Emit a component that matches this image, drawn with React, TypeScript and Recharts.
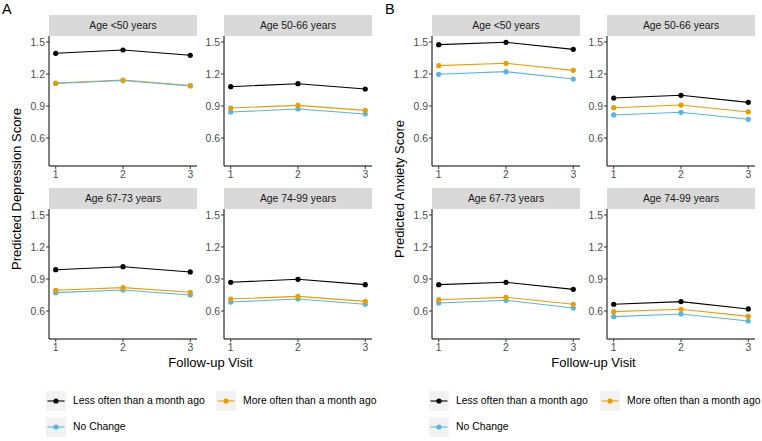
import React from "react";
import { LineChart, Line, XAxis, YAxis } from "recharts";

const visits = [1, 2, 3];
const xTicks = [1, 2, 3];
const yTicks = [0.6, 0.9, 1.2, 1.5];
const ageGroups = ["Age <50 years", "Age 50-66 years", "Age 67-73 years", "Age 74-99 years"];
const seriesNames = ["Less often than a month ago", "More often than a month ago", "No Change"];

// Depression (panel A), one row per age group, values for visits 1..3
const depressionLess = [
  [1.394, 1.425, 1.375],
  [1.081, 1.109, 1.059],
  [0.987, 1.015, 0.966],
  [0.869, 0.897, 0.847],
];
const depressionMore = [
  [1.115, 1.143, 1.092],
  [0.881, 0.906, 0.859],
  [0.794, 0.819, 0.775],
  [0.712, 0.737, 0.69],
];
const depressionNoChange = [
  [1.111, 1.139, 1.088],
  [0.844, 0.872, 0.825],
  [0.772, 0.797, 0.75],
  [0.684, 0.712, 0.663],
];

// Anxiety (panel B)
const anxietyLess = [
  [1.475, 1.497, 1.431],
  [0.975, 1.0, 0.934],
  [0.847, 0.869, 0.803],
  [0.663, 0.688, 0.619],
];
const anxietyMore = [
  [1.278, 1.3, 1.234],
  [0.884, 0.909, 0.844],
  [0.706, 0.728, 0.663],
  [0.594, 0.616, 0.55],
];
const anxietyNoChange = [
  [1.197, 1.222, 1.153],
  [0.816, 0.841, 0.775],
  [0.675, 0.7, 0.628],
  [0.547, 0.572, 0.506],
];

const COLORS = { less: "#000000", more: "#E69F00", none: "#56B4E9" };
const FONT = "'Liberation Sans', Arial, Helvetica, sans-serif";

const buildData = (less: number[], more: number[], none: number[]) =>
  visits.map((v, i) => ({ visit: v, less: less[i], more: more[i], none: none[i] }));

const Y_AXIS_W = 32;
const PLOT_W = 148;
const PLOT_H = 130;
const X_AXIS_H = 22;

function Facet({ left, top, title, data }: { left: number; top: number; title: string; data: any[] }) {
  return (
    <>
      <div
        style={{
          position: "absolute",
          left,
          top: top - 21,
          width: PLOT_W,
          height: 21,
          background: "#D9D9D9",
          color: "#1A1A1A",
          fontFamily: FONT,
          fontSize: 10.4,
          lineHeight: "21px",
          textAlign: "center",
        }}
      >
        {title}
      </div>
      <div style={{ position: "absolute", left: left - Y_AXIS_W, top }}>
        <LineChart
          width={Y_AXIS_W + PLOT_W}
          height={PLOT_H + X_AXIS_H}
          data={data}
          margin={{ top: 0, right: 0, bottom: 0, left: 0 }}
        >
          <XAxis
            dataKey="visit"
            type="number"
            domain={[0.9, 3.1]}
            ticks={xTicks}
            height={X_AXIS_H}
            tickSize={3}
            tickMargin={1.5}
            axisLine={{ stroke: "#000000", strokeWidth: 1 }}
            tickLine={{ stroke: "#333333" }}
            tick={{ fill: "#4D4D4D", fontSize: 10.4, fontFamily: FONT }}
            allowDataOverflow
          />
          <YAxis
            type="number"
            domain={[0.3375, 1.556]}
            ticks={yTicks}
            width={Y_AXIS_W}
            tickSize={3}
            tickMargin={1}
            tickFormatter={(v: number) => v.toFixed(1)}
            axisLine={{ stroke: "#000000", strokeWidth: 1 }}
            tickLine={{ stroke: "#333333" }}
            tick={{ fill: "#4D4D4D", fontSize: 10.4, fontFamily: FONT }}
            allowDataOverflow
          />
          <Line
            dataKey="less"
            stroke={COLORS.less}
            strokeWidth={1.1}
            dot={{ r: 2.6, fill: COLORS.less, stroke: "none" }}
            activeDot={false}
            isAnimationActive={false}
          />
          <Line
            dataKey="more"
            stroke={COLORS.more}
            strokeWidth={1.1}
            dot={false}
            activeDot={false}
            isAnimationActive={false}
          />
          <Line
            dataKey="none"
            stroke={COLORS.none}
            strokeWidth={1.1}
            dot={{ r: 2.6, fill: COLORS.none, stroke: "none" }}
            activeDot={false}
            isAnimationActive={false}
          />
          <Line
            dataKey="more"
            stroke="none"
            dot={{ r: 2.6, fill: COLORS.more, stroke: "none" }}
            activeDot={false}
            isAnimationActive={false}
          />
        </LineChart>
      </div>
    </>
  );
}

function LegendKey({ left, top, color, label }: { left: number; top: number; color: string; label: string }) {
  return (
    <>
      <div style={{ position: "absolute", left, top, width: 20, height: 20, background: "#F2F2F2" }}>
        <svg width={20} height={20}>
          <line x1={1.5} y1={10} x2={18.5} y2={10} stroke={color} strokeWidth={1.1} />
          <circle cx={10} cy={10} r={2.6} fill={color} />
        </svg>
      </div>
      <div
        style={{
          position: "absolute",
          left: left + 27,
          top,
          height: 20,
          lineHeight: "20px",
          fontFamily: FONT,
          fontSize: 10.4,
          color: "#000000",
          whiteSpace: "nowrap",
        }}
      >
        {label}
      </div>
    </>
  );
}

function Panel({
  letter,
  offsetX,
  yTitle,
  less,
  more,
  none,
  legendLeft,
  legendLeft2,
}: {
  letter: string;
  offsetX: number;
  yTitle: string;
  less: number[][];
  more: number[][];
  none: number[][];
  legendLeft: number;
  legendLeft2: number;
}) {
  const lefts = [offsetX, offsetX + 175];
  const tops = [36, 209];
  return (
    <>
      <div
        style={{
          position: "absolute",
          left: offsetX - 47,
          top: 1,
          fontFamily: FONT,
          fontSize: 14.5,
          lineHeight: "17px",
          color: "#000",
        }}
      >
        {letter}
      </div>
      {ageGroups.map((g, i) => (
        <Facet
          key={g}
          left={lefts[i % 2]}
          top={tops[Math.floor(i / 2)]}
          title={g}
          data={buildData(less[i], more[i], none[i])}
        />
      ))}
      <div
        style={{
          position: "absolute",
          left: offsetX - 32 - 100,
          top: 189 - 10,
          width: 200,
          height: 20,
          lineHeight: "20px",
          textAlign: "center",
          transform: "rotate(-90deg)",
          fontFamily: FONT,
          fontSize: 13,
          color: "#000",
          whiteSpace: "nowrap",
        }}
      >
        {yTitle}
      </div>
      <div
        style={{
          position: "absolute",
          left: offsetX + 161.5 - 100,
          top: 354,
          width: 200,
          height: 18,
          lineHeight: "18px",
          textAlign: "center",
          fontFamily: FONT,
          fontSize: 13,
          color: "#000",
        }}
      >
        Follow-up Visit
      </div>
      <LegendKey left={legendLeft} top={391} color={COLORS.less} label={seriesNames[0]} />
      <LegendKey left={legendLeft2} top={391} color={COLORS.more} label={seriesNames[1]} />
      <LegendKey left={legendLeft} top={417} color={COLORS.none} label={seriesNames[2]} />
    </>
  );
}

export default function App() {
  return (
    <div
      style={{
        position: "absolute",
        left: 0,
        top: 0,
        width: 762,
        height: 441,
        background: "#FFFFFF",
        overflow: "hidden",
      }}
    >
      <Panel
        letter="A"
        offsetX={49}
        yTitle="Predicted Depression Score"
        less={depressionLess}
        more={depressionMore}
        none={depressionNoChange}
        legendLeft={46}
        legendLeft2={216}
      />
      <Panel
        letter="B"
        offsetX={432}
        yTitle="Predicted Anxiety Score"
        less={anxietyLess}
        more={anxietyMore}
        none={anxietyNoChange}
        legendLeft={429}
        legendLeft2={600}
      />
    </div>
  );
}
